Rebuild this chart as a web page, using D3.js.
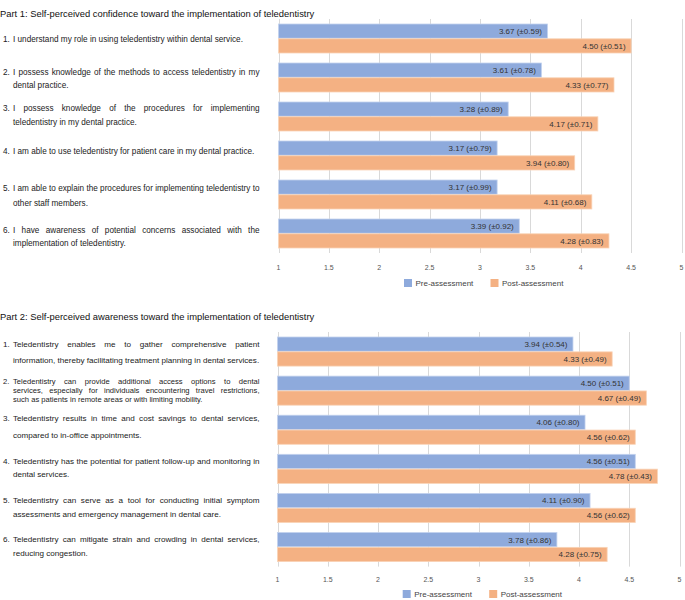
<!DOCTYPE html>
<html><head><meta charset="utf-8">
<script src="https://cdn.jsdelivr.net/npm/d3@7"></script>
<style>
body{margin:0;background:#fff}
svg{display:block;font-family:"Liberation Sans",Arial,Helvetica,sans-serif}
</style>
</head><body>
<svg id="chart" width="685" height="600"></svg>
<script>
// ---------------- DATA ----------------
const titles = [
  "Part 1: Self-perceived confidence toward the implementation of teledentistry",
  "Part 2: Self-perceived awareness toward the implementation of teledentistry"
];
const seriesNames = ["Pre-assessment", "Post-assessment"];
const tickValues = [1, 1.5, 2, 2.5, 3, 3.5, 4, 4.5, 5];

const labels1 = [
  ["I understand my role in using teledentistry within dental service."],
  ["I possess knowledge of the methods to access teledentistry in my", "dental practice."],
  ["I possess knowledge of the procedures for implementing", "teledentistry in my dental practice."],
  ["I am able to use teledentistry for patient care in my dental practice."],
  ["I am able to explain the procedures for implementing teledentistry to", "other staff members."],
  ["I have awareness of potential concerns associated with the", "implementation of teledentistry."]
];
const pre1 = [3.67, 3.61, 3.28, 3.17, 3.17, 3.39];
const preSd1 = [0.59, 0.78, 0.89, 0.79, 0.99, 0.92];
const post1 = [4.50, 4.33, 4.17, 3.94, 4.11, 4.28];
const postSd1 = [0.51, 0.77, 0.71, 0.80, 0.68, 0.83];

const labels2 = [
  ["Teledentistry enables me to gather comprehensive patient", "information, thereby facilitating treatment planning in dental services."],
  ["Teledentistry can provide additional access options to dental", "services, especially for individuals encountering travel restrictions,", "such as patients in remote areas or with limiting mobility."],
  ["Teledentistry results in time and cost savings to dental services,", "compared to in-office appointments."],
  ["Teledentistry has the potential for patient follow-up and monitoring in", "dental services."],
  ["Teledentistry can serve as a tool for conducting initial symptom", "assessments and emergency management in dental care."],
  ["Teledentistry can mitigate strain and crowding in dental services,", "reducing congestion."]
];
const pre2 = [3.94, 4.50, 4.06, 4.56, 4.11, 3.78];
const preSd2 = [0.54, 0.51, 0.80, 0.51, 0.90, 0.86];
const post2 = [4.33, 4.67, 4.56, 4.78, 4.56, 4.28];
const postSd2 = [0.49, 0.49, 0.62, 0.43, 0.62, 0.75];

// ---------------- LAYOUT / STYLE ----------------
const colors = ["#8eaadc", "#f4b183"];
const strokes = ["#c3d2ee", "#f9d3b6"];

const panels = [
  { title: titles[0], labels: labels1, pre: pre1, preSd: preSd1, post: post1, postSd: postSd1,
    titleY: 16.5, top: 19, step: 39, x0: 278.5, x1: 681.5, tickY: 269.5, legendY: 283, legendX: 404,
    lh: [13, 13, 14, 13, 15, 13], dy: [0.5, 1, -1.5, -4.5, 1, 3], fs: [8.2, 8.2, 8.2, 8.2, 8.2, 8.2] },
  { title: titles[1], labels: labels2, pre: pre2, preSd: preSd2, post: post2, postSd: postSd2,
    titleY: 320.3, top: 332, step: 39.1, x0: 277.5, x1: 679.5, tickY: 581.5, legendY: 594, legendX: 402.7,
    lh: [16, 9, 17, 13, 14, 14], dy: [0.4, -0.6, -3.2, -1.3, -1, -1], fs: [8.1, 7.6, 8.1, 8.1, 8.1, 8.1] }
];

const svg = d3.select("#chart");
const textLeft = 13, numLeft = 3, textRight = 259.5;

function justifyLine(g, words, x0, x1, y, fs, justify) {
  const t = g.append("text").attr("y", y).attr("font-size", fs).attr("fill", "#222");
  const spans = words.map(w => t.append("tspan").text(w));
  const widths = spans.map(s => s.node().getComputedTextLength());
  const total = d3.sum(widths);
  let gap = fs * 0.278;
  if (justify && words.length > 1) gap = (x1 - x0 - total) / (words.length - 1);
  let x = x0;
  spans.forEach((s, i) => { s.attr("x", x); x += widths[i] + gap; });
}

panels.forEach((p, pi) => {
  const g = svg.append("g");
  const n = p.labels.length;
  const x = d3.scaleLinear().domain([1, 5]).range([p.x0, p.x1]);
  const y = d3.scaleBand().domain(d3.range(n)).range([p.top, p.top + p.step * n])
    .paddingInner(10 / 39).paddingOuter(5 / 39);
  const ySub = d3.scaleBand().domain([0, 1]).range([0, y.bandwidth()]).paddingInner(0.04);
  const bottom = p.top + p.step * n;

  // title
  g.append("text").attr("x", 0).attr("y", p.titleY).attr("font-size", 9.4).attr("fill", "#111")
    .text(p.title);

  // grid
  g.selectAll("line.grid").data(tickValues).join("line")
    .attr("x1", d => Math.round(x(d)) + 0.5).attr("x2", d => Math.round(x(d)) + 0.5)
    .attr("y1", p.top).attr("y2", bottom)
    .attr("stroke", "#d9d9d9").attr("stroke-width", 1);

  // tick labels
  g.selectAll("text.tick").data(tickValues).join("text")
    .attr("x", d => x(d)).attr("y", p.tickY).attr("text-anchor", "middle")
    .attr("font-size", 7).attr("fill", "#555")
    .text(d => d3.format("")(d));

  // bars
  const rows = d3.range(n).map(i => [
    { i, s: 0, v: p.pre[i], sd: p.preSd[i] },
    { i, s: 1, v: p.post[i], sd: p.postSd[i] }
  ]).flat();
  g.selectAll("rect.bar").data(rows).join("rect")
    .attr("x", x(1))
    .attr("y", d => y(d.i) + ySub(d.s))
    .attr("width", d => x(d.v) - x(1))
    .attr("height", ySub.bandwidth())
    .attr("fill", d => colors[d.s])
    .attr("stroke", d => strokes[d.s]).attr("stroke-width", 0.8);
  g.selectAll("text.val").data(rows).join("text")
    .attr("x", d => x(d.v) - 5.5)
    .attr("y", d => y(d.i) + ySub(d.s) + ySub.bandwidth() / 2 + 2.9)
    .attr("text-anchor", "end").attr("font-size", 8).attr("fill", "#333")
    .text(d => `${d3.format(".2f")(d.v)} (±${d3.format(".2f")(d.sd)})`);

  // category labels
  p.labels.forEach((lines, i) => {
    const c = y(i) + y.bandwidth() / 2 + p.dy[i];
    const fs = p.fs[i];
    lines.forEach((line, li) => {
      const yy = c + (li - (lines.length - 1) / 2) * p.lh[i] + fs * 0.36;
      if (li === 0) {
        g.append("text").attr("x", numLeft).attr("y", yy).attr("font-size", fs).attr("fill", "#222")
          .text(`${i + 1}.`);
      }
      const justify = li < lines.length - 1;
      justifyLine(g, line.split(" "), textLeft, textRight, yy, fs, justify);
    });
  });

  // legend
  const offsets = [0, 86.5];
  const lg = g.append("g");
  seriesNames.forEach((name, si) => {
    lg.append("rect").attr("x", p.legendX + offsets[si]).attr("y", p.legendY - 4)
      .attr("width", 8).attr("height", 8).attr("fill", colors[si]);
    lg.append("text").attr("x", p.legendX + offsets[si] + 11.5).attr("y", p.legendY + 2.9)
      .attr("font-size", 8).attr("fill", "#444").text(name);
  });
});
</script>
</body></html>
